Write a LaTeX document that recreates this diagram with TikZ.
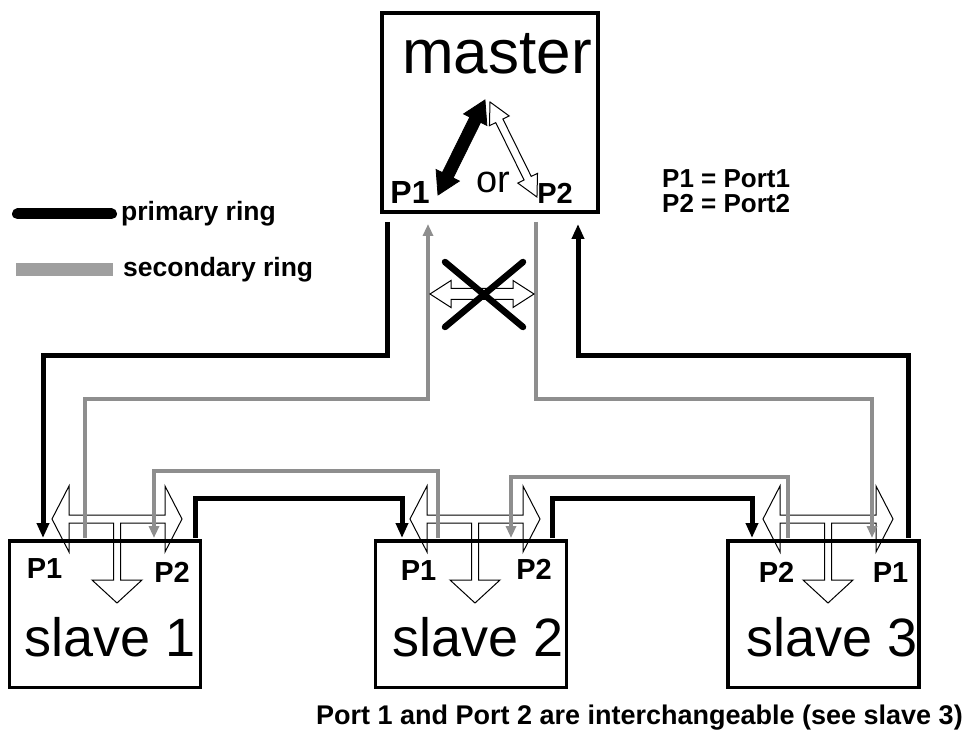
\documentclass[tikz,border=0pt]{standalone}
\usepackage{fontspec}
\setmainfont{Liberation Sans}
\usetikzlibrary{arrows.meta}

\definecolor{ringBlack}{HTML}{000000}
\definecolor{ringGrey}{HTML}{8E8E8E}

% outline of a double headed arrow along the x axis: length, head length, head half width, shaft half width
\newcommand{\dblarrowpath}[4]{(0,0) -- (#2,#3) -- (#2,#4) -- ({#1-#2},#4) -- ({#1-#2},#3) -- (#1,0) -- ({#1-#2},-#3) -- ({#1-#2},-#4) -- (#2,-#4) -- (#2,-#3) -- cycle}

\tikzset{
  masterbox/.style={draw, line width=4pt, minimum width=216pt, minimum height=199pt, inner sep=0pt},
  slavebox/.style={draw, line width=3.5pt, minimum width=191pt, minimum height=146.5pt, inner sep=0pt},
  primaryRing/.style={draw=ringBlack, line width=5pt},
  secondaryRing/.style={draw=ringGrey, line width=4pt},
  blackTip/.style={-{Triangle[length=15pt,width=12pt]}},
  greyTip/.style={-{Triangle[length=12pt,width=10pt]}},
  portlabel/.style={anchor=base, inner sep=0pt, font=\fontsize{29}{29}\selectfont\bfseries},
  notelabel/.style={inner sep=0pt, font=\fontsize{26.5}{26.5}\selectfont\bfseries},
  tarrow/.pic={
    \draw[line width=1pt] (-65,0) -- (-48,-33) -- (-48,-4) -- (48,-4) -- (48,-33) -- (65,0)
      -- (48,33) -- (48,4) -- (3.5,4) -- (3.5,61) -- (25,61) -- (0,84) -- (-25,61)
      -- (-3.5,61) -- (-3.5,4) -- (-48,4) -- (-48,33) -- cycle;
  }
}

\begin{document}
\begin{tikzpicture}[x=1pt,y=-1pt]
  \useasboundingbox (0,0) rectangle (972,751);

  % master
  \node[masterbox] (master) at (490,112.5) {};
  \node[anchor=base, inner sep=0pt, font=\fontsize{62}{62}\selectfont] (mastertext) at (497,74) {master};
  \node[portlabel, font=\fontsize{32}{32}\selectfont\bfseries] (mP1) at (410,204) {P1};
  \node[portlabel] (mP2) at (555,204) {P2};
  \node[anchor=base, inner sep=0pt, font=\fontsize{38}{38}\selectfont] (mor) at (493,193) {or};
  \draw[fill=black, line width=0.8pt, shift={(438,195)}, rotate=63.7] \dblarrowpath{106}{22}{13}{6};
  \draw[fill=white, line width=1pt, shift={(490,102)}, rotate=-63.7] \dblarrowpath{106}{21}{11}{4};

  % slaves
  \foreach \i/\cx/\tx in {1/105/110, 2/471/478, 3/823.5/832} {
    \node[slavebox] (slave\i) at (\cx,614) {};
    \node[anchor=base, inner sep=0pt, font=\fontsize{54}{54}\selectfont] (slavetext\i) at (\tx,656) {slave \i};
  }
  \foreach \tx in {117,475,828}
    \pic at (\tx,519) {tarrow};

  \node[portlabel] (s1P1) at (44.5,578) {P1};
  \node[portlabel] (s1P2) at (172,582) {P2};
  \node[portlabel] (s2P1) at (418.5,580) {P1};
  \node[portlabel] (s2P2) at (534,579) {P2};
  \node[portlabel] (s3P2) at (776.5,582) {P2};
  \node[portlabel] (s3P1) at (890.5,582) {P1};

  % port ends of the ring lines
  \coordinate (mk1) at (387,222);
  \coordinate (mg1) at (428,224);
  \coordinate (mg2) at (536,222);
  \coordinate (mk2) at (578,224);
  \coordinate (s1k1) at (43,538);  \coordinate (s1g1) at (85,538);
  \coordinate (s1g2) at (154,538); \coordinate (s1k2) at (195,538);
  \coordinate (s2k1) at (402,538); \coordinate (s2g1) at (438,538);
  \coordinate (s2g2) at (511,538); \coordinate (s2k2) at (552,538);
  \coordinate (s3k2) at (752,538); \coordinate (s3g2) at (788,538);
  \coordinate (s3g1) at (872,538); \coordinate (s3k1) at (908,538);
  \coordinate (busA) at (0,355);
  \coordinate (busB) at (0,399);
  \coordinate (busC) at (0,471);
  \coordinate (busD) at (0,498);
  \coordinate (busE) at (0,477);

  % secondary ring
  \draw[secondaryRing, greyTip] (s1g1) -- (s1g1 |- busB) -| (mg1);
  \draw[secondaryRing, greyTip] (mg2) -- (mg2 |- busB) -| (s3g1);
  \draw[secondaryRing, greyTip] (s3g2) -- (s3g2 |- busE) -| (s2g2);
  \draw[secondaryRing, greyTip] (s2g1) -- (s2g1 |- busC) -| (s1g2);

  % primary ring
  \draw[primaryRing, blackTip] (mk1) -- (mk1 |- busA) -| (s1k1);
  \draw[primaryRing, blackTip] (s1k2) -- (s1k2 |- busD) -| (s2k1);
  \draw[primaryRing, blackTip] (s2k2) -- (s2k2 |- busD) -| (s3k2);
  \draw[primaryRing, blackTip] (s3k1) -- (s3k1 |- busA) -| (mk2);

  % no direct link between the master ports
  \draw[fill=white, line width=1pt, shift={(430,294)}] \dblarrowpath{104}{21}{13.5}{5.5};
  \draw[line width=6.5pt, line cap=round] (445,262) -- (523,327) (523,262) -- (445,327);

  % legend
  \draw[line width=11pt, line cap=round] (17.5,214) -- (111.5,214);
  \node[notelabel, anchor=base west] (legPrim) at (121,221) {primary ring};
  \fill[ringGrey!85] (16,263) rectangle (113,276);
  \node[notelabel, anchor=base west] (legSec) at (123,277) {secondary ring};

  \node[notelabel, anchor=base west, font=\fontsize{26}{26}\selectfont\bfseries] (key1) at (662,188) {P1 = Port1};
  \node[notelabel, anchor=base west, font=\fontsize{26}{26}\selectfont\bfseries] (key2) at (662,213) {P2 = Port2};

  \node[notelabel, anchor=base east, font=\fontsize{27}{27}\selectfont\bfseries] (note) at (963,724) {Port 1 and Port 2 are interchangeable (see slave 3)};
\end{tikzpicture}
\end{document}
